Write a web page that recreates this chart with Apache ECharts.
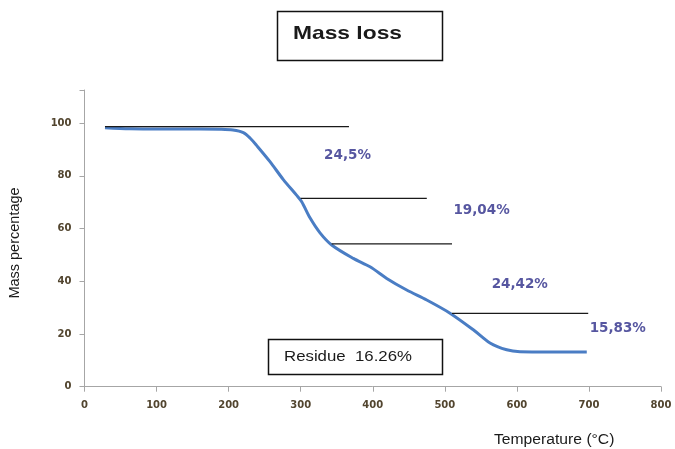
<!DOCTYPE html>
<html>
<head>
<meta charset="utf-8">
<script src="https://cdn.jsdelivr.net/npm/echarts@6/dist/echarts.min.js"></script>
<style>
  html, body { margin: 0; padding: 0; background: #ffffff; }
  #chart { width: 675px; height: 449px; }
</style>
</head>
<body>
<div id="chart"></div>
<script>
// Thermogravimetric curve: temperature (°C) vs remaining mass (%)
const temperature = [28.4, 63, 105, 160, 188, 206, 220.4, 230, 239, 257.4, 275.9, 294.5, 301.4, 312.9, 326.8, 343, 373, 396.2, 419.4, 447.1, 474.9, 507.2, 539.5, 562.7, 585.9, 604.4, 646, 697];
const massPercent = [98.3, 97.9, 97.8, 97.8, 97.7, 97.4, 96.4, 94.3, 91.5, 85.4, 78.6, 72.6, 70.2, 64.1, 58.4, 53.8, 48.7, 45.5, 41.1, 36.7, 32.9, 27.9, 21.6, 16.6, 14.0, 13.3, 13.2, 13.2];

// Step reference lines: [level, start temperature, end temperature]
const stepLevels = [98.7, 71.5, 54.2, 27.8];
const stepStarts = [28.4, 300, 343, 510];
const stepEnds = [367, 475, 510, 699];

// Mass loss of each step and where its label sits
const lossLabels = ['24,5%', '19,04%', '24,42%', '15,83%'];
const lossLabelX = [365, 551, 604, 740];
const lossLabelY = [87.9, 66.8, 38.6, 22.2];

const xTicks = [0, 100, 200, 300, 400, 500, 600, 700, 800];
const yTicks = [0, 20, 40, 60, 80, 100];

const chart = echarts.init(document.getElementById('chart'), null, { renderer: 'canvas' });

const axisGray = '#a6a6a6';
const tickFont = { color: '#52452f', fontFamily: 'DejaVu Sans', fontWeight: 'bold', fontSize: 10 };

const stepSeries = stepLevels.map((lvl, i) => ({
  type: 'line',
  data: [[stepStarts[i], lvl], [stepEnds[i], lvl]],
  symbol: 'none',
  lineStyle: { color: '#1a1a1a', width: 1.2 },
  z: 4,
  silent: true
}));

chart.setOption({
  animation: false,
  backgroundColor: '#ffffff',
  grid: { left: 84.5, right: 14, top: 90, bottom: 62.3 },
  xAxis: {
    type: 'value',
    min: xTicks[0],
    max: xTicks[xTicks.length - 1],
    interval: 100,
    splitLine: { show: false },
    axisLine: { show: true, onZero: false, lineStyle: { color: axisGray, width: 1 } },
    axisTick: { show: true, length: 5, lineStyle: { color: axisGray } },
    axisLabel: Object.assign({ margin: 14 }, tickFont)
  },
  yAxis: {
    type: 'value',
    min: yTicks[0],
    max: 112.6,
    interval: 20,
    splitLine: { show: false },
    axisLine: { show: true, lineStyle: { color: axisGray, width: 1 } },
    axisTick: { show: true, length: 5, lineStyle: { color: axisGray } },
    axisLabel: Object.assign({
      margin: 13,
      formatter: v => (yTicks.indexOf(v) >= 0 ? String(v) : '')
    }, tickFont)
  },
  series: [
    {
      type: 'line',
      data: temperature.map((t, i) => [t, massPercent[i]]),
      symbol: 'none',
      smooth: 0.3,
      lineStyle: { color: '#4a7dc4', width: 3 },
      z: 3
    },
    ...stepSeries,
    {
      type: 'scatter',
      data: lossLabels.map((s, i) => ({ value: [lossLabelX[i], lossLabelY[i]], name: s })),
      symbolSize: 1,
      itemStyle: { color: 'rgba(0,0,0,0)' },
      silent: true,
      z: 5,
      label: {
        show: true,
        position: 'inside',
        formatter: p => p.name,
        color: '#2c2c88',
        fontFamily: 'DejaVu Sans',
        fontWeight: 'bold',
        fontSize: 13.5
      }
    }
  ],
  graphic: [
    {
      type: 'rect',
      shape: { x: 277.5, y: 11.5, width: 165, height: 49 },
      style: { fill: '#ffffff', stroke: '#111111', lineWidth: 1.5 }
    },
    {
      type: 'text',
      x: 293, y: 34, scaleX: 1.2,
      style: {
        text: 'Mass loss', x: 0, y: 0, align: 'left', verticalAlign: 'middle',
        fill: '#1a1a1a', font: 'bold 19px "Liberation Sans", Arial, sans-serif'
      }
    },
    {
      type: 'rect',
      shape: { x: 268.5, y: 339.5, width: 174, height: 35 },
      style: { fill: '#ffffff', stroke: '#111111', lineWidth: 1.5 },
      z: 10
    },
    {
      type: 'text',
      x: 284, y: 357, scaleX: 1.12, z: 11,
      style: {
        text: 'Residue  16.26%', x: 0, y: 0, align: 'left', verticalAlign: 'middle',
        fill: '#1a1a1a', font: '15px "Liberation Sans", Arial, sans-serif'
      }
    },
    {
      type: 'text',
      x: 494, y: 440, scaleX: 1.12,
      style: {
        text: 'Temperature (°C)', x: 0, y: 0, align: 'left', verticalAlign: 'middle',
        fill: '#1a1a1a', font: '14px "Liberation Sans", Arial, sans-serif'
      }
    },
    {
      type: 'text',
      x: 15, y: 243, rotation: Math.PI / 2,
      style: {
        text: 'Mass percentage', x: 0, y: 0, align: 'center', verticalAlign: 'middle',
        fill: '#1a1a1a', font: '14.5px "Liberation Sans", Arial, sans-serif'
      }
    }
  ]
});
</script>
</body>
</html>
